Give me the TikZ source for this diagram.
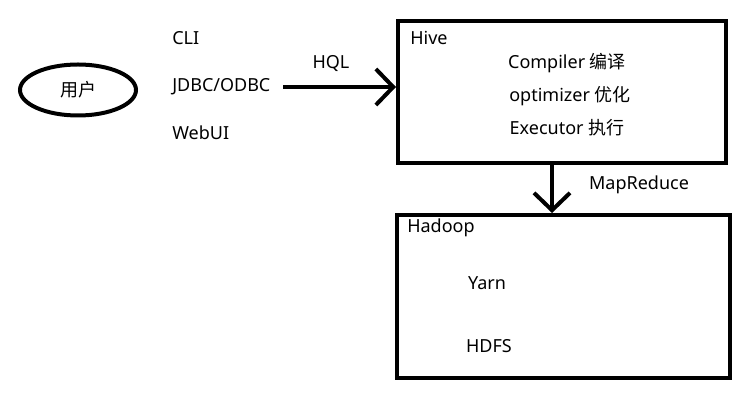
\documentclass[tikz,border=0pt]{standalone}
\usepackage{fontspec}
\setmainfont{Noto Sans}
\newfontfamily\cjk{Noto Sans CJK SC}
\usetikzlibrary{arrows.meta,shapes.geometric}
\begin{document}
\begin{tikzpicture}[x=0.75pt,y=-0.75pt,
  lbl/.style={font=\fontsize{13.5}{16}\selectfont, inner sep=0pt},
  box/.style={draw, line width=3pt, inner sep=0pt},
  conn/.style={line width=3pt, -{Straight Barb[length=13pt,width=27pt]}}]
\useasboundingbox (0,0) rectangle (748,409);
\node[box, ellipse, minimum width=87pt, minimum height=38.25pt, font=\fontsize{13.5}{16}\selectfont\cjk] (user) at (78,90) {用户};
\node[lbl, anchor=west] (cli) at (172,38) {CLI};
\node[lbl, anchor=west] (jdbc) at (172,87) {JDBC/ODBC};
\node[lbl, anchor=west] (webui) at (172,133) {WebUI};
\node[box, minimum width=246pt, minimum height=106.5pt] (hive) at (562,92) {};
\node[box, minimum width=249.75pt, minimum height=122.25pt] (hadoop) at (563.5,296.5) {};
\node[lbl, anchor=west] (hivelbl) at (410,38) {Hive};
\node[lbl] (compiler) at (567,63) {Compiler {\cjk 编译}};
\node[lbl] (optimizer) at (570,96) {optimizer {\cjk 优化}};
\node[lbl] (executor) at (567,128) {Executor {\cjk 执行}};
\node[lbl, anchor=west] (hadooplbl) at (407,228) {Hadoop};
\node[lbl] (yarn) at (487,283) {Yarn};
\node[lbl] (hdfs) at (489,346) {HDFS};
\node[lbl] (hql) at (331,64) {HQL};
\node[lbl] (mr) at (639,185) {MapReduce};
\coordinate (dx) at (552,0);
\coordinate (ax) at (283,0);
\draw[conn] (ax |- jdbc.east) -- (jdbc.east -| hive.west);
\draw[conn] (dx |- hive.south) -- (dx |- hadoop.north);
\end{tikzpicture}
\end{document}
